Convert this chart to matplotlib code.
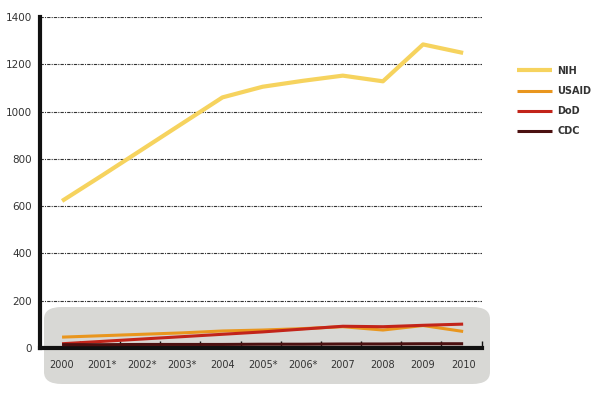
import matplotlib.pyplot as plt
from matplotlib.patches import FancyBboxPatch
import numpy as np

# Funding by agency, 2000-2010
years = ["2000", "2001*", "2002*", "2003*", "2004", "2005*", "2006*",
         "2007", "2008", "2009", "2010"]
nih = [622, 730, 840, 950, 1060, 1105, 1130, 1152, 1128, 1284, 1248]
usaid = [46, 52, 58, 64, 72, 76, 82, 90, 76, 95, 70]
dod = [18, 28, 38, 48, 58, 68, 80, 92, 90, 96, 101]
cdc = [14, 14, 15, 15, 15, 16, 16, 17, 17, 18, 18]

series = [("NIH", nih, "#F6D35E", 3.0),
          ("USAID", usaid, "#E9961E", 2.2),
          ("DoD", dod, "#C2241A", 2.2),
          ("CDC", cdc, "#4B1010", 2.2)]

plt.rcParams['font.family'] = ['DejaVu Sans']

fig = plt.figure(figsize=(5.92, 3.99), dpi=100)
ax = fig.add_axes([40 / 592, 1 - 348 / 399, 442 / 592, 331 / 399])
ax.set_facecolor("none")
ax.set_zorder(2)

# grey rounded band behind the bottom of the chart
band = FancyBboxPatch((44 / 592, 1 - 384 / 399), 446 / 592, 77 / 399,
                      boxstyle="round,pad=0,rounding_size=0.03",
                      transform=fig.transFigure, facecolor="#D8D8D5",
                      edgecolor="none", zorder=-1)
fig.patches.append(band)

x = np.arange(len(years))
for name, vals, color, lw in series:
    ax.plot(x, vals, color=color, lw=lw, label=name, solid_capstyle="butt", zorder=3)

ax.set_xlim(-0.55, 10.47)
ax.set_ylim(0, 1400)
ax.set_yticks(np.arange(0, 1401, 200))
ax.set_xticks(x)
ax.set_xticklabels(years)
ax.set_xticks(list(x[:-1] + 0.45) + [10.47], minor=True)

for v in range(200, 1401, 200):
    ax.axhline(v, color="#333333", lw=0.8, ls=(0, (3, 1, 1, 1)), zorder=1)

for s in ["top", "right"]:
    ax.spines[s].set_visible(False)
ax.spines["left"].set_linewidth(3)
ax.spines["bottom"].set_linewidth(3)
ax.spines["left"].set_color("#111111")
ax.spines["bottom"].set_color("#111111")

ax.tick_params(axis="y", length=0, pad=6, labelsize=7.5, labelcolor="#333333")
ax.tick_params(axis="x", which="major", length=0, pad=9, labelsize=7,
               labelcolor="#333333")
ax.tick_params(axis="x", which="minor", direction="in", length=5, width=1,
               color="#111111")

leg = ax.legend(loc="upper left", bbox_to_anchor=(508 / 592, 1 - 57 / 399),
                bbox_transform=fig.transFigure, frameon=False, fontsize=7,
                handlelength=3.6, labelspacing=1.05, handletextpad=0.6)
for t in leg.get_texts():
    t.set_fontweight("bold")
    t.set_color("#333333")

fig.savefig("out.png", dpi=100)
